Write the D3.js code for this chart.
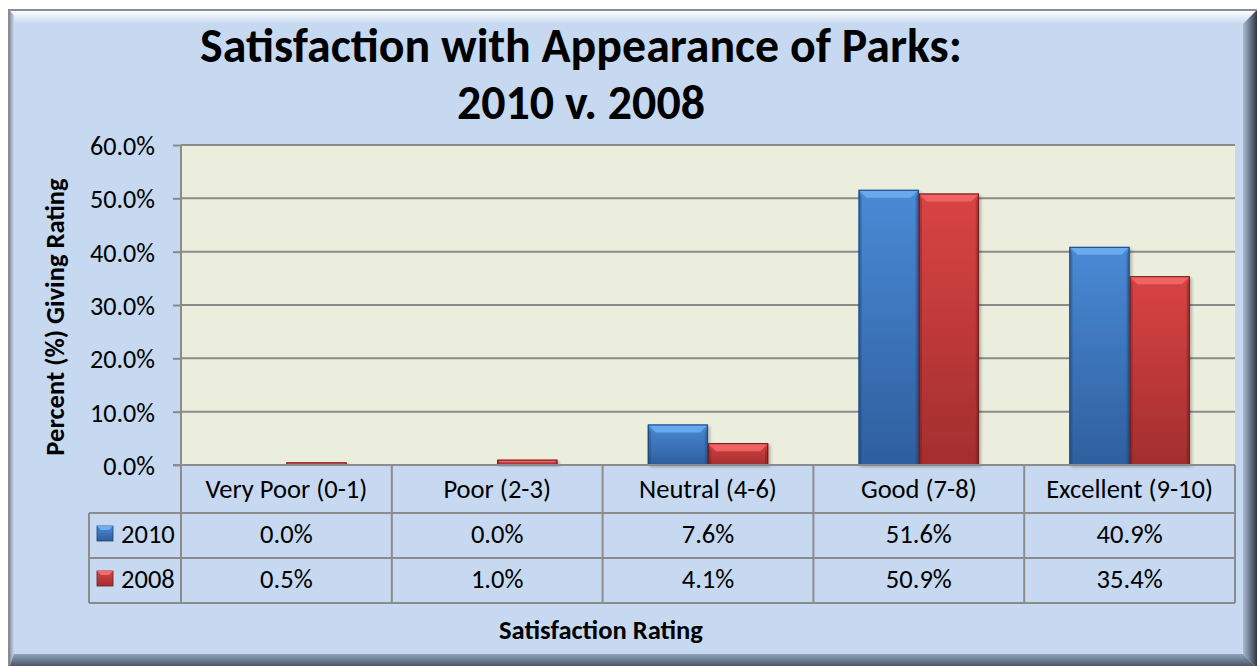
<!DOCTYPE html>
<html>
<head>
<meta charset="utf-8">
<script src="https://cdn.jsdelivr.net/npm/d3@7"></script>
<style>
  html, body { margin: 0; padding: 0; background: #ffffff; }
  svg { display: block; }
  text { font-family: Carlito, Lato, "Open Sans", sans-serif; fill: #000; }
</style>
</head>
<body>
<div id="chart"></div>
<script>
var categories = ["Very Poor (0-1)", "Poor (2-3)", "Neutral (4-6)", "Good (7-8)", "Excellent (9-10)"];
var seriesNames = ["2010", "2008"];
var values2010 = [0.0, 0.0, 7.6, 51.6, 40.9];
var values2008 = [0.5, 1.0, 4.1, 50.9, 35.4];
var yTicks = [0, 10, 20, 30, 40, 50, 60];
var titleLines = ["Satisfaction with Appearance of Parks:", "2010 v. 2008"];
var yTitle = "Percent (%) Giving Rating";
var xTitle = "Satisfaction Rating";

var W = 1257, H = 666;
var plot = {left: 181, right: 1235, top: 145, bottom: 465};
var rowH = [48, 45, 45];
var legendLeft = 89;

var palette = {
    "2010": {top: "#4a8ad6", bottom: "#2e5f9e", light: "#6cb0f2", dark: "#1d4477"},
    "2008": {top: "#d94444", bottom: "#a32e2e", light: "#f56a6a", dark: "#6e1a1a"}
};

var svg = d3.select("#chart").append("svg")
    .attr("width", W)
    .attr("height", H);

var defs = svg.append("defs");

function vGrad(id, c1, c2) {
    var g = defs.append("linearGradient").attr("id", id)
        .attr("x1", 0).attr("y1", 0).attr("x2", 0).attr("y2", 1);
    g.append("stop").attr("offset", "0%").attr("stop-color", c1);
    g.append("stop").attr("offset", "100%").attr("stop-color", c2);
}
function hGrad(id, c1, c2) {
    var g = defs.append("linearGradient").attr("id", id)
        .attr("x1", 0).attr("y1", 0).attr("x2", 1).attr("y2", 0);
    g.append("stop").attr("offset", "0%").attr("stop-color", c1);
    g.append("stop").attr("offset", "100%").attr("stop-color", c2);
}
seriesNames.forEach(function(s) {
    vGrad("bar" + s, palette[s].top, palette[s].bottom);
});
vGrad("bevTop", "#ffffff", "#c6d9f1");
vGrad("bevBottom", "#8ea3bd", "#3f4a57");
hGrad("bevRight", "#a9bbd2", "#2f3843");
hGrad("bevLeft", "#7f8a96", "#c6d9f1");

defs.append("filter").attr("id", "shadow")
    .attr("x", "-10%").attr("y", "-10%").attr("width", "130%").attr("height", "130%")
    .append("feDropShadow")
    .attr("dx", 2).attr("dy", 2).attr("stdDeviation", 1.5)
    .attr("flood-color", "#000").attr("flood-opacity", 0.25);

// ---- outer frame with bevel ----
var fx0 = 9, fy0 = 10, fx1 = 1257, fy1 = 668, bev = 14;
svg.append("rect")
    .attr("x", fx0).attr("y", fy0)
    .attr("width", fx1 - fx0).attr("height", fy1 - fy0)
    .attr("fill", "#c6d9f1");
svg.append("polygon")
    .attr("points", [[fx0, fy0], [fx1, fy0], [fx1 - bev, fy0 + bev], [fx0 + 5, fy0 + bev]].join(" "))
    .attr("fill", "url(#bevTop)");
svg.append("polygon")
    .attr("points", [[fx0, fy0], [fx0 + 5, fy0 + 5], [fx0 + 5, fy1 - bev], [fx0, fy1]].join(" "))
    .attr("fill", "url(#bevLeft)");
svg.append("polygon")
    .attr("points", [[fx1, fy0], [fx1, fy1], [fx1 - bev, fy1 - bev], [fx1 - bev, fy0 + bev]].join(" "))
    .attr("fill", "url(#bevRight)");
svg.append("polygon")
    .attr("points", [[fx0, fy1], [fx0 + 5, fy1 - bev], [fx1 - bev, fy1 - bev], [fx1, fy1]].join(" "))
    .attr("fill", "url(#bevBottom)");
svg.append("path")
    .attr("d", "M" + fx0 + "," + fy1 + "V" + fy0 + "H" + fx1)
    .attr("fill", "none").attr("stroke", "#8c8c8c").attr("stroke-width", 2);

// ---- scales ----
var x0 = d3.scaleBand().domain(categories).range([plot.left, plot.right]).padding(0);
var x1 = d3.scaleBand().domain(seriesNames).range([0, x0.bandwidth()])
    .paddingInner(0).paddingOuter(0.75);
var y = d3.scaleLinear().domain([0, 60]).range([plot.bottom, plot.top]);

var fmt = function(v) { return v.toFixed(1) + "%"; };

// pick a font size so a sample string gets the width it has in the picture
function fitSize(str, weight, target) {
    var t = svg.append("text").attr("font-size", 20).attr("font-weight", weight).text(str);
    var w = t.node().getComputedTextLength();
    t.remove();
    return 20 * target / w;
}
function label(parent, str, x, yy, size, anchor, weight, rotate) {
    return parent.append("text")
        .attr("transform", "translate(" + x + "," + yy + ")" + (rotate ? " rotate(-90)" : ""))
        .attr("text-anchor", anchor)
        .attr("font-weight", weight)
        .attr("font-size", size)
        .text(str);
}
var tickSize = fitSize("60.0%", "normal", 65);
var catSize = fitSize("Very Poor (0-1)", "normal", 162);
var titleSize = fitSize(titleLines[0], "bold", 762);
var axisTitleSize = fitSize(xTitle, "bold", 204);

// ---- plot area ----
svg.append("rect")
    .attr("x", plot.left).attr("y", plot.top)
    .attr("width", plot.right - plot.left).attr("height", plot.bottom - plot.top)
    .attr("fill", "#ebeedd");

svg.append("g").selectAll("line")
    .data(yTicks)
    .join("line")
    .attr("x1", plot.left).attr("x2", plot.right)
    .attr("y1", function(d) { return y(d); })
    .attr("y2", function(d) { return y(d); })
    .attr("stroke", "#8a8a8a").attr("stroke-width", 2);

var yAxis = d3.axisLeft(y).tickValues(yTicks).tickFormat(function(d) { return fmt(d); })
    .tickSize(8).tickPadding(18);
var gY = svg.append("g").attr("transform", "translate(" + plot.left + ",0)").call(yAxis);
gY.select(".domain").remove();
gY.selectAll(".tick line").attr("stroke", "#8a8a8a").attr("stroke-width", 2);
gY.selectAll(".tick text")
    .attr("dy", "0.36em")
    .attr("font-size", tickSize)
    .attr("font-family", "Carlito, Lato, sans-serif")
    .attr("fill", "#000");

// ---- bars ----
var rows = categories.map(function(c, i) {
    return {cat: c, vals: [{s: "2010", v: values2010[i]}, {s: "2008", v: values2008[i]}]};
});

var barG = svg.append("g");
rows.forEach(function(r) {
    r.vals.forEach(function(d) {
        if (d.v <= 0) return;
        var bx = x0(r.cat) + x1(d.s);
        var bw = x1.bandwidth();
        var by = y(d.v);
        var bh = y(0) - by;
        var b = Math.min(8, bh / 2, bw / 2);
        var p = palette[d.s];
        var g = barG.append("g").attr("filter", "url(#shadow)");
        g.append("rect")
            .attr("x", bx).attr("y", by).attr("width", bw).attr("height", bh)
            .attr("fill", "url(#bar" + d.s + ")");
        // bevel: top light, sides dark
        g.append("polygon")
            .attr("points", [[bx, by], [bx + bw, by], [bx + bw - b, by + b], [bx + b, by + b]].join(" "))
            .attr("fill", p.light).attr("opacity", 0.85);
        g.append("polygon")
            .attr("points", [[bx, by], [bx + b * 0.4, by + b], [bx + b * 0.4, by + bh], [bx, by + bh]].join(" "))
            .attr("fill", p.dark).attr("opacity", 0.35);
        g.append("polygon")
            .attr("points", [[bx + bw, by], [bx + bw - b * 0.4, by + b], [bx + bw - b * 0.4, by + bh], [bx + bw, by + bh]].join(" "))
            .attr("fill", p.dark).attr("opacity", 0.35);
        g.append("rect")
            .attr("x", bx + 0.5).attr("y", by + 0.5).attr("width", bw - 1).attr("height", Math.max(0, bh - 1))
            .attr("fill", "none").attr("stroke", p.dark).attr("stroke-width", 1);
    });
});

// ---- data table ----
var tTop = plot.bottom;
var rowTops = [tTop, tTop + rowH[0], tTop + rowH[0] + rowH[1]];
var tBottom = rowTops[2] + rowH[2];
var gridColor = "#8c8c8c";
var tbl = svg.append("g");

// horizontal lines
tbl.append("line").attr("x1", plot.left - 8).attr("x2", plot.right)
    .attr("y1", tTop).attr("y2", tTop);
[rowTops[1], rowTops[2], tBottom].forEach(function(yy) {
    tbl.append("line").attr("x1", legendLeft).attr("x2", plot.right)
        .attr("y1", yy).attr("y2", yy);
});
// vertical lines
tbl.append("line").attr("x1", plot.left).attr("x2", plot.left)
    .attr("y1", plot.top).attr("y2", tBottom);
tbl.append("line").attr("x1", legendLeft).attr("x2", legendLeft)
    .attr("y1", rowTops[1]).attr("y2", tBottom);
categories.forEach(function(c) {
    var xx = x0(c) + x0.bandwidth();
    tbl.append("line").attr("x1", xx).attr("x2", xx).attr("y1", tTop).attr("y2", tBottom);
});
tbl.selectAll("line").attr("stroke", gridColor).attr("stroke-width", 2);
// top border of plot
svg.append("line").attr("x1", plot.left).attr("x2", plot.right)
    .attr("y1", plot.top).attr("y2", plot.top)
    .attr("stroke", gridColor).attr("stroke-width", 2);

categories.forEach(function(c) {
    label(tbl, c, x0(c) + x0.bandwidth() / 2, tTop + 33, catSize, "middle", "normal");
});

var seriesRows = [{s: "2010", vals: values2010}, {s: "2008", vals: values2008}];
seriesRows.forEach(function(sr, i) {
    var top = rowTops[i + 1];
    sr.vals.forEach(function(v, j) {
        label(tbl, fmt(v), x0(categories[j]) + x0.bandwidth() / 2, top + 30, catSize, "middle", "normal");
    });

    // legend key
    var p = palette[sr.s];
    var kx = legendLeft + 8, ky = top + 13, ks = 16;
    tbl.append("rect").attr("x", kx).attr("y", ky).attr("width", ks).attr("height", ks - 1)
        .attr("fill", "url(#bar" + sr.s + ")").attr("stroke", p.dark).attr("stroke-width", 0.8);
    tbl.append("polygon")
        .attr("points", [[kx, ky], [kx + ks, ky], [kx + ks - 4, ky + 4], [kx + 4, ky + 4]].join(" "))
        .attr("fill", p.light);
    label(tbl, sr.s, kx + ks + 8, top + 30, catSize, "start", "normal");
});

// ---- titles ----
var titleX = 581;
label(svg, titleLines[0], titleX, 62, titleSize, "middle", "bold");
label(svg, titleLines[1], titleX, 119, titleSize, "middle", "bold");

label(svg, yTitle, 64, (plot.top + plot.bottom) / 2 + 12, axisTitleSize, "middle", "bold", true);
label(svg, xTitle, 601, 639, axisTitleSize, "middle", "bold");
</script>
</body>
</html>
